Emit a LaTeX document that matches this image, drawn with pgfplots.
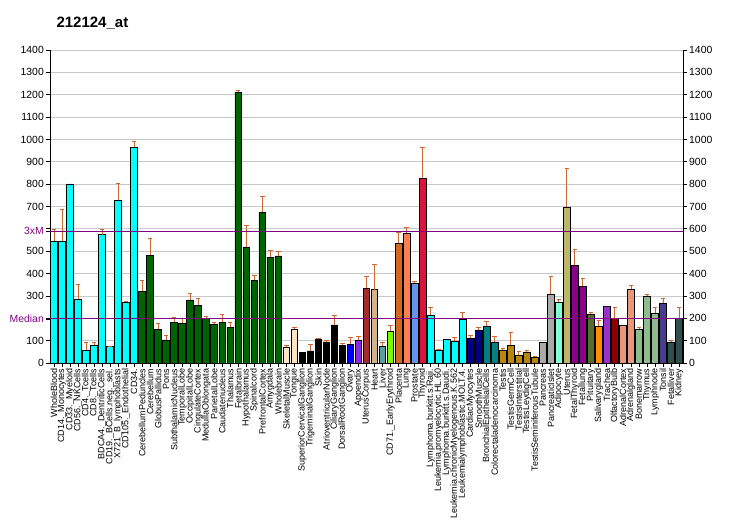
\documentclass[border=0pt]{standalone}
\usepackage{pgfplots}
\pgfplotsset{compat=1.18}
\usepackage{fontspec}
\setmainfont{Liberation Sans}
\definecolor{errc}{RGB}{204,102,51}
\definecolor{medc}{RGB}{128,0,128}
\definecolor{gridc}{RGB}{200,200,200}
\definecolor{cCyan}{HTML}{00FFFF}
\definecolor{cDGreen}{HTML}{006400}
\definecolor{cBisque}{HTML}{FFE4C4}
\definecolor{cBlue}{HTML}{0000FF}
\definecolor{cBViolet}{HTML}{8A2BE2}
\definecolor{cBrown}{HTML}{A52A2A}
\definecolor{cTan}{HTML}{D2B48C}
\definecolor{cCadet}{HTML}{5F9EA0}
\definecolor{cLawn}{HTML}{7CFC00}
\definecolor{cChoc}{HTML}{D2691E}
\definecolor{cCoral}{HTML}{FF7F50}
\definecolor{cCorn}{HTML}{6495ED}
\definecolor{cCrimson}{HTML}{DC143C}
\definecolor{cNavy}{HTML}{000080}
\definecolor{cTeal}{HTML}{008080}
\definecolor{cDGold}{HTML}{B8860B}
\definecolor{cDGray}{HTML}{A9A9A9}
\definecolor{cAqua}{HTML}{7FFFD4}
\definecolor{cDKhaki}{HTML}{BDB76B}
\definecolor{cDMag}{HTML}{8B008B}
\definecolor{cDOlive}{HTML}{556B2F}
\definecolor{cDOrange}{HTML}{FF8C00}
\definecolor{cDOrchid}{HTML}{9932CC}
\definecolor{cDRed}{HTML}{8B0000}
\definecolor{cDSalmon}{HTML}{E9967A}
\definecolor{cDSea}{HTML}{8FBC8F}
\definecolor{cDSBlue}{HTML}{483D8B}
\definecolor{cDSGray}{HTML}{2F4F4F}
\pgfplotsset{
 eb/.style={ybar, bar width=0.84, bar shift=0pt, draw=black, line width=0.8pt, fill=#1,
   error bars/.cd, y dir=plus, y explicit,
   error bar style={errc, line width=0.8pt},
   error mark options={errc, rotate=90, mark size=2.2pt, line width=0.8pt}},
 nb/.style={ybar, bar width=0.84, bar shift=0pt, draw=black, line width=0.8pt, fill=#1},
}
\begin{document}
\begin{tikzpicture}
\begin{axis}[
 scale only axis, width=633pt, height=313pt,
 xmin=0.5, xmax=79.5, ymin=0, ymax=1400,
 axis x line*=bottom, axis y line*=left,
 axis line style={black, line width=0.8pt},
 tick align=outside, major tick length=4pt,
 tick style={black, line width=0.8pt},
 xtick={1,...,79},
 xticklabels={WholeBlood,CD14.\_Monocytes,CD33.\_Myeloid,CD56.\_NKCells,CD4.\_Tcells,CD8.\_Tcells,BDCA4.\_DentriticCells,CD19.\_BCells.neg.\_sel.,X721\_B\_lymphoblasts,CD105.\_Endothelial,CD34.,CerebellumPeduncles,Cerebellum,GlobusPallidus,Pons,SubthalamicNucleus,TemporalLobe,OccipitalLobe,CingulateCortex,MedullaOblongata,ParietalLobe,Caudatenucleus,Thalamus,Fetalbrain,Hypothalamus,Spinalcord,PrefrontalCortex,Amygdala,Wholebrain,SkeletalMuscle,Tongue,SuperiorCervicalGanglion,TrigeminalGanglion,Skin,AtrioventricularNode,CiliaryGanglion,DorsalRootGanglion,Ovary,Appendix,UterusCorpus,Heart,Liver,CD71.\_EarlyErythroid,Placenta,Lung,Prostate,Thyroid,Lymphoma.burkitt.s.Raji.,Leukemia.promyelocytic.HL.60,Lymphoma.burkitt.s.Daudi.,Leukemia.chronicMyelogenous.K.562,Leukemialymphoblastic.MOLT.4.,CardiacMyocytes,SmoothMuscle,BronchialEpithelialCells,Colorectaladenocarcinoma,Testis,TestisGermCell,TestisInterstitial,TestisLeydigCell,TestisSeminiferousTubule,Pancreas,PancreaticIslet,Adipocyte,Uterus,FetalThyroid,Fetallung,Pituitary,Salivarygland,Trachea,OlfactoryBulb,AdrenalCortex,Adrenalgland,Bonemarrow,Thymus,Lymphnode,Tonsil,Fetalliver,Kidney},
 x tick label style={rotate=90, anchor=east, font=\fontsize{9}{10}\selectfont, inner sep=1.5pt},
 ytick={0,100,...,1400},
 yticklabels={0,100,,300,400,500,,700,800,900,1000,1100,1200,1300,1400},
 yticklabel style={font=\fontsize{10.4}{12}\selectfont, inner sep=2pt},
 extra y ticks={590,197},
 extra y tick labels={3xM,Median},
 extra y tick style={grid=none, yticklabel style={text=medc}},
 ymajorgrids, grid style={gridc, line width=0.8pt},
 title={212124\_at},
 title style={at={(0,1)}, anchor=base west, xshift=3pt, yshift=16pt, font=\bfseries\fontsize{15}{17}\selectfont},
 clip=false,
]
\addplot[eb=cCyan] coordinates {(1,546)+-(0,53) (2,546)+-(0,143) (4,286)+-(0,67) (5,58)+-(0,36) (6,80)+-(0,14) (7,573)+-(0,26) (8,73)+-(0,3) (9,729)+-(0,76) (10,273)+-(0,3) (11,966)+-(0,27) (48,215)+-(0,35) (49,58)+-(0,5) (51,98)+-(0,18) (52,197)+-(0,31)};
\addplot[nb=cCyan] coordinates {(3,801) (50,107)};
\addplot[eb=cDGreen] coordinates {(12,322)+-(0,49) (13,483)+-(0,76) (14,152)+-(0,27) (15,103)+-(0,22) (16,183)+-(0,23) (17,179)+-(0,21) (18,282)+-(0,31) (19,259)+-(0,32) (20,201)+-(0,9) (21,174)+-(0,9) (22,183)+-(0,36) (23,161)+-(0,22) (24,1212)+-(0,9) (25,519)+-(0,98) (26,371)+-(0,23) (27,675)+-(0,68) (28,474)+-(0,31) (29,479)+-(0,22)};
\addplot[eb=cBisque] coordinates {(30,72)+-(0,8) (31,152)+-(0,9)};
\addplot[nb=black] coordinates {(32,49)};
\addplot[eb=black] coordinates {(33,54)+-(0,31) (34,107)+-(0,5) (35,94)+-(0,9) (36,170)+-(0,45) (37,80)+-(0,9)};
\addplot[eb=cBlue] coordinates {(38,85)+-(0,31)};
\addplot[eb=cBViolet] coordinates {(39,103)+-(0,18)};
\addplot[eb=cBrown] coordinates {(40,335)+-(0,54)};
\addplot[eb=cTan] coordinates {(41,327)+-(0,116)};
\addplot[eb=cCadet] coordinates {(42,76)+-(0,18)};
\addplot[eb=cLawn] coordinates {(43,143)+-(0,27)};
\addplot[eb=cChoc] coordinates {(44,537)+-(0,49)};
\addplot[eb=cCoral] coordinates {(45,581)+-(0,27)};
\addplot[eb=cCorn] coordinates {(46,358)+-(0,9)};
\addplot[eb=cCrimson] coordinates {(47,827)+-(0,139)};
\addplot[eb=cNavy] coordinates {(53,112)+-(0,13) (54,148)+-(0,13)};
\addplot[eb=cTeal] coordinates {(55,165)+-(0,23) (56,94)+-(0,27)};
\addplot[eb=cDGold] coordinates {(57,58)+-(0,9) (58,80)+-(0,59) (59,36)+-(0,18) (60,49)+-(0,9) (61,27)+-(0,4)};
\addplot[nb=cDGray] coordinates {(62,94)};
\addplot[eb=cDGray] coordinates {(63,309)+-(0,80)};
\addplot[eb=cAqua] coordinates {(64,273)+-(0,13)};
\addplot[eb=cDKhaki] coordinates {(65,698)+-(0,174)};
\addplot[eb=cDMag] coordinates {(66,438)+-(0,72) (67,344)+-(0,36)};
\addplot[eb=cDOlive] coordinates {(68,219)+-(0,9)};
\addplot[eb=cDOrange] coordinates {(69,165)+-(0,27)};
\addplot[nb=cDOrchid] coordinates {(70,255)};
\addplot[eb=cDRed] coordinates {(71,201)+-(0,49)};
\addplot[nb=cDSalmon] coordinates {(72,170)};
\addplot[eb=cDSalmon] coordinates {(73,331)+-(0,18)};
\addplot[eb=cDSea] coordinates {(74,152)+-(0,5) (75,300)+-(0,9) (76,224)+-(0,26)};
\addplot[eb=cDSBlue] coordinates {(77,268)+-(0,23)};
\addplot[eb=cDSGray] coordinates {(78,94)+-(0,9) (79,201)+-(0,49)};
\addplot[medc, line width=1pt] coordinates {(0.5,590) (79.5,590)};
\addplot[medc, line width=1pt] coordinates {(0.5,197) (79.5,197)};
\end{axis}
\begin{axis}[
 scale only axis, width=633pt, height=313pt,
 xmin=0.5, xmax=79.5, ymin=0, ymax=1400,
 axis x line=none, axis y line*=right,
 axis line style={black, line width=0.8pt},
 tick align=outside, major tick length=4pt,
 tick style={black, line width=0.8pt},
 ytick={0,100,...,1400},
 yticklabels={0,100,200,300,400,500,600,700,800,900,1000,1100,1200,1300,1400},
 yticklabel style={font=\fontsize{10.4}{12}\selectfont, inner sep=2pt},
]
\addplot[draw=none] coordinates {(1,0)};
\end{axis}
\pgfresetboundingbox
\path (current axis.south west) ++(-50pt,-167pt) rectangle ++(732pt,530pt);
\end{tikzpicture}
\end{document}
